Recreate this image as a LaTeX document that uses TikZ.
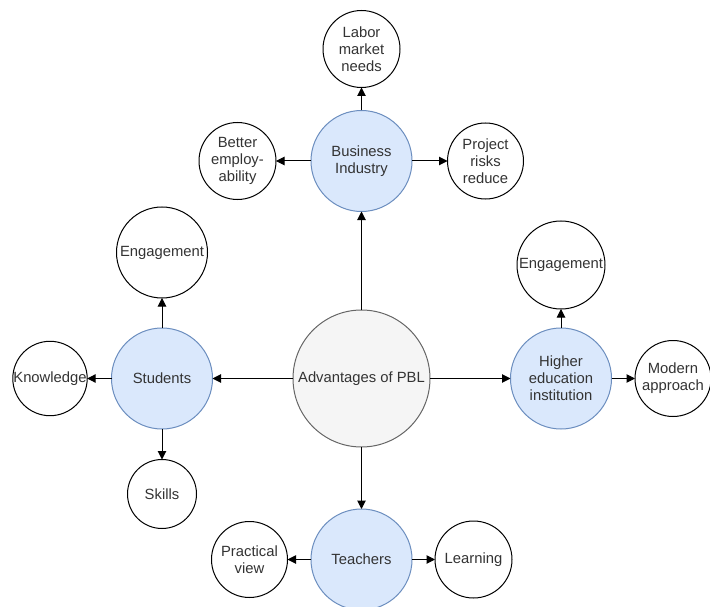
\documentclass[tikz,border=0pt]{standalone}
\usepackage{fontspec}
\setmainfont{Liberation Sans}
\usetikzlibrary{arrows.meta}
\definecolor{bfill}{HTML}{DAE8FC}
\definecolor{bline}{HTML}{6C8EBF}
\definecolor{gfill}{HTML}{F5F5F5}
\definecolor{gline}{HTML}{666666}
\definecolor{gtext}{HTML}{333333}
\begin{document}
\begin{tikzpicture}[x=1pt,y=-1pt,
  base/.style={circle, inner sep=0pt, outer sep=0pt, align=center, text=gtext,
    font=\fontsize{14.8}{17}\selectfont, line width=1pt},
  leaf/.style={base, draw=black, fill=white, minimum size=#1},
  hub/.style={base, draw=bline, fill=bfill, minimum size=101pt},
  core/.style={base, draw=gline, fill=gfill, minimum size=137pt},
  arr/.style={-{Triangle[length=8.5pt,width=8.5pt]}, line width=1pt, draw=black}]
\useasboundingbox (0,0) rectangle (710,607);
\node[core] (core) at (361.5,378.5) {Advantages of PBL};
\node[hub] (bi) at (361.5,161) {Business\\Industry};
\node[hub] (stu) at (162,378.5) {Students};
\node[hub] (hei) at (561,378.5) {Higher\\education\\institution};
\node[hub] (teach) at (361.5,559.5) {Teachers};
\node[leaf=77pt] (labor) at (361.5,49) {Labor\\market\\needs};
\node[leaf=77pt] (better) at (237.5,161) {Better\\employ-\\ability};
\node[leaf=76pt] (project) at (485.5,161) {Project\\risks\\reduce};
\node[leaf=91pt] (engS) at (162,252.5) {Engagement};
\node[leaf=74pt] (know) at (50,378.5) {Knowledge};
\node[leaf=69pt] (skills) at (162,494) {Skills};
\node[leaf=88pt] (engH) at (561,265) {Engagement};
\node[leaf=76pt] (modern) at (673,378.5) {Modern\\approach};
\node[leaf=76pt] (prac) at (249.5,559.5) {Practical\\view};
\node[leaf=77pt] (learn) at (473.5,559.5) {Learning};
\draw[arr] (core) -- (bi);
\draw[arr] (core) -- (stu);
\draw[arr] (core) -- (hei);
\draw[arr] (core) -- (teach);
\draw[arr] (bi) -- (labor);
\draw[arr] (bi) -- (better);
\draw[arr] (bi) -- (project);
\draw[arr] (stu) -- (engS);
\draw[arr] (stu) -- (know);
\draw[arr] (stu) -- (skills);
\draw[arr] (hei) -- (engH);
\draw[arr] (hei) -- (modern);
\draw[arr] (teach) -- (prac);
\draw[arr] (teach) -- (learn);
\end{tikzpicture}
\end{document}
